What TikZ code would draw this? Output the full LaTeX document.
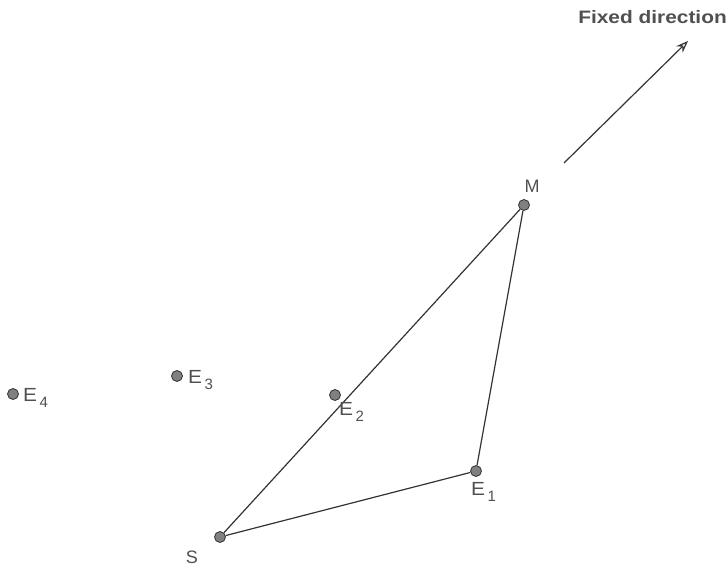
\documentclass[tikz,border=0pt]{standalone}
\usepackage{fontspec}
\setmainfont{Liberation Sans}
\usetikzlibrary{arrows.meta}
\definecolor{dotfill}{HTML}{808080}
\definecolor{ink}{HTML}{333333}
\definecolor{txt}{HTML}{505050}
\tikzset{
  pt/.style={circle,draw=ink,fill=dotfill,line width=0.8pt,minimum size=11pt,inner sep=0pt},
  lbl/.style={text=txt,font=\fontsize{18}{18}\selectfont,inner sep=0pt},
  edge/.style={draw=ink,line width=1.2pt},
}
\newcommand{\Esub}[1]{\scalebox{1.1}[1]{\fontsize{19}{19}\selectfont E}\kern2.5pt\raisebox{-6pt}{\fontsize{15}{15}\selectfont #1}}
\begin{document}
\begin{tikzpicture}[x=1pt,y=-1pt]
\useasboundingbox (0,0) rectangle (728,570);
\node[pt] (S) at (220,537) {};
\node[pt] (E1) at (476,471) {};
\node[pt] (E2) at (335,395) {};
\node[pt] (E3) at (177,376) {};
\node[pt] (E4) at (13,394) {};
\node[pt] (M) at (524,205) {};
\draw[edge] (S) -- (M);
\draw[edge] (M) -- (E1);
\draw[edge] (E1) -- (S);
\node[lbl,anchor=center] (lS) at (192,557) {S};
\node[lbl,anchor=center] (lM) at (532,186) {M};
\node[lbl,anchor=west] (lE1) at (471,492) {\Esub{1}};
\node[lbl,anchor=west] (lE2) at (339,412) {\Esub{2}};
\node[lbl,anchor=west] (lE3) at (188,380) {\Esub{3}};
\node[lbl,anchor=west] (lE4) at (23,398) {\Esub{4}};
\coordinate (a0) at (564,163);
\coordinate (a1) at (688,41);
\draw[ink,line width=1.2pt,-{Stealth[length=12pt,width=9pt,open,fill=white]}] (a0) -- (a1);
\node[text=txt,inner sep=0pt,anchor=east] (fd) at (727,17) {\scalebox{1.16}[1]{\bfseries\fontsize{18}{18}\selectfont Fixed direction}};
\end{tikzpicture}
\end{document}
